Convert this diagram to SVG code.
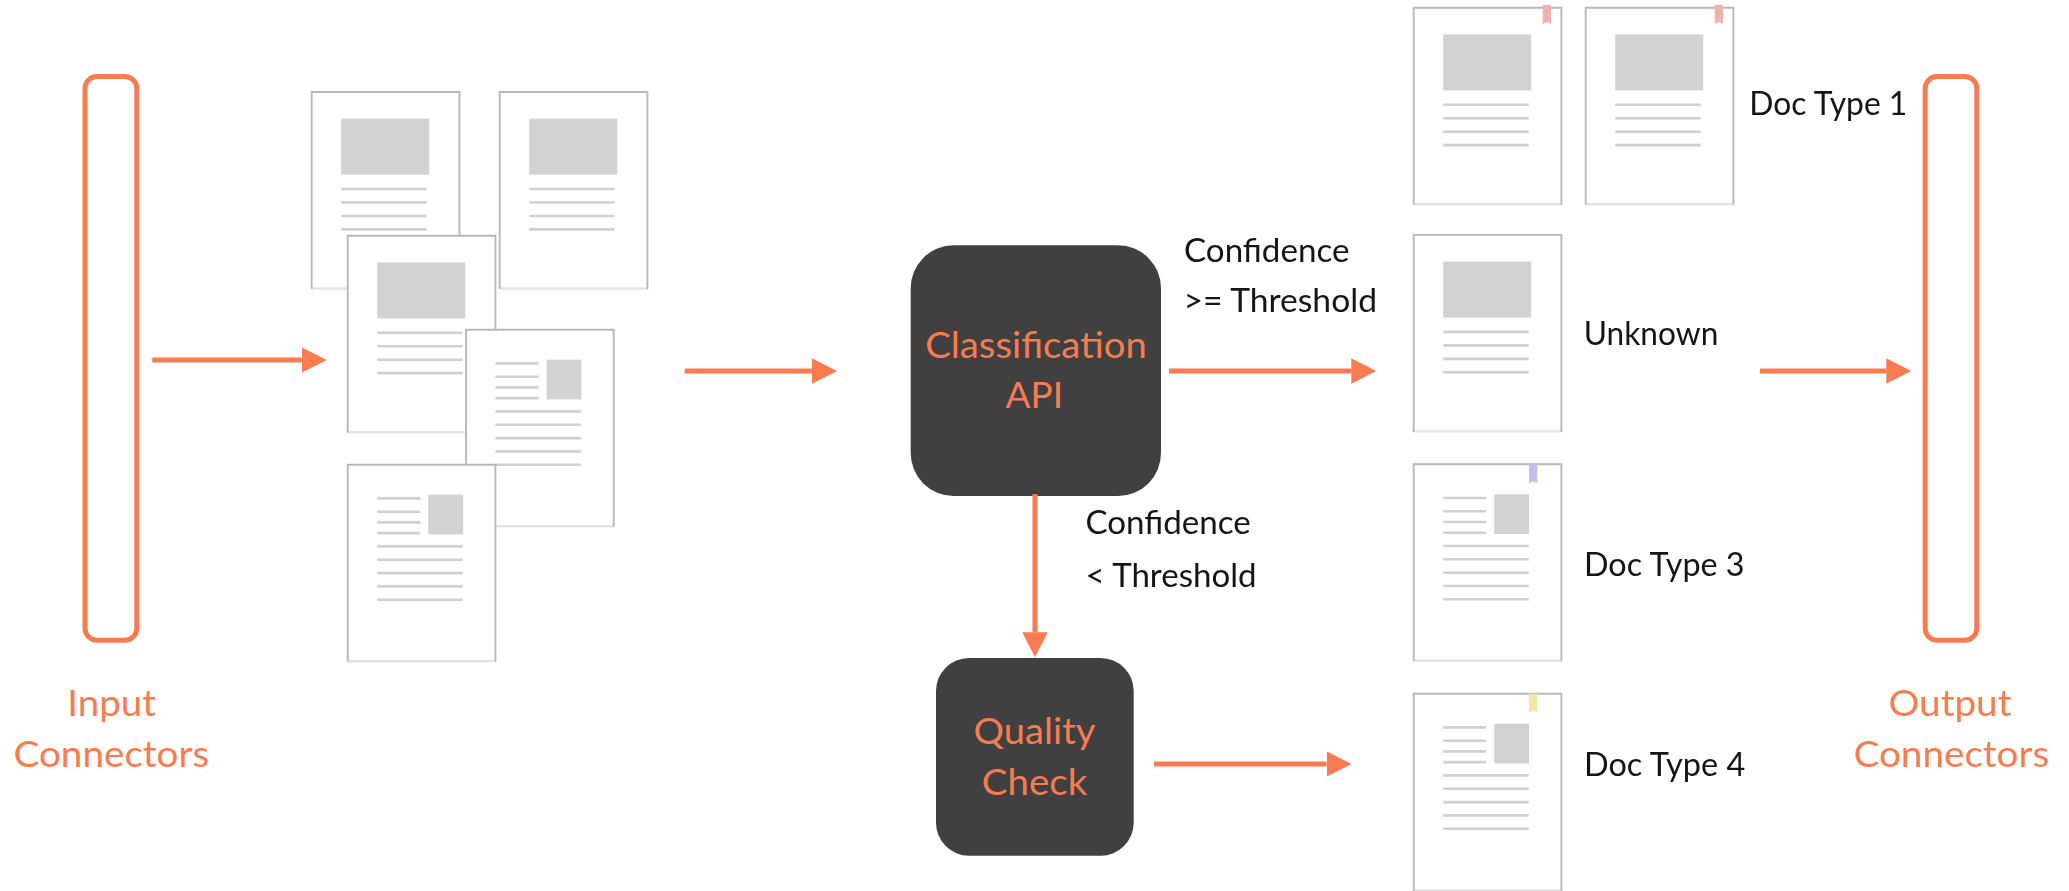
<svg xmlns="http://www.w3.org/2000/svg" xmlns:xlink="http://www.w3.org/1999/xlink" width="2069" height="891" viewBox="0 0 2069 891">
<style>
text{font-family:"Lato","Open Sans","Liberation Sans",sans-serif}
.o{fill:#f87c50;font-size:36.5px}
.k{fill:#151515;font-size:32px}
.bar{fill:#fff;stroke:#f87c50;stroke-width:5}
.box{fill:#404040}
.arr{stroke:#f87c50;stroke-width:5;fill:none;marker-end:url(#h)}
.pg{fill:#fff}
.ed{fill:none;stroke:#b8b8b8;stroke-width:1.9}
.bt{fill:none;stroke:#e4e4e4;stroke-width:2.4}
.im{fill:#d2d2d2}
.ln{stroke:#d0d0d0;stroke-width:2.6}
</style>
<defs>
<filter id="b" x="-5%" y="-5%" width="110%" height="110%"><feGaussianBlur stdDeviation="0.6"/></filter>
<marker id="h" markerUnits="userSpaceOnUse" markerWidth="26" markerHeight="26" refX="0" refY="12.7" orient="auto"><path d="M0 0L25 12.7L0 25.4Z" fill="#f87c50"/></marker>
<g id="page"><rect class="pg" width="147.7" height="196.5"/><path class="bt" d="M0 196.5H147.7"/><path class="ed" d="M0 197V0H147.7V197"/></g>
<g id="docA"><use href="#page"/><rect class="im" x="29.5" y="26.7" width="88" height="56"/><path class="ln" d="M29.5 97H115M29.5 110.5H115M29.5 124H115M29.5 137.4H115"/></g>
<g id="docB"><use href="#page"/><rect class="im" x="80.6" y="30" width="34.8" height="39.7"/><path class="ln" d="M29.5 33.7H72.5M29.5 47H72.5M29.5 57.7H72.5M29.5 68.4H72.5M29.5 81.7H115M29.5 95H115M29.5 108.4H115M29.5 121.7H115M29.5 135H115"/></g>
<path id="tag" d="M0 0H8.3V19L4.15 17L0 19Z"/>
</defs>
<rect width="2069" height="891" fill="#fff"/>
<g id="input-connectors"><rect class="bar" x="85" y="76.5" width="51.8" height="563.7" rx="12"/>
<text class="o" x="67.3" y="715.5" textLength="88.7" lengthAdjust="spacingAndGlyphs">Input</text>
<text class="o" x="13.5" y="766.5" textLength="195.7" lengthAdjust="spacingAndGlyphs">Connectors</text></g>
<g id="input-documents" filter="url(#b)">
<use href="#docA" x="311.7" y="92"/><use href="#docA" x="499.7" y="92"/><use href="#docA" x="347.7" y="235.7"/><use href="#docB" x="466" y="329.7"/><use href="#docB" x="347.7" y="464.7"/>
</g>
<g id="classification-api"><rect class="box" x="910.7" y="245.3" width="250.3" height="250.7" rx="43"/>
<text class="o" x="925.2" y="358.2" textLength="221.6" lengthAdjust="spacingAndGlyphs">Classification</text>
<text class="o" x="1005.5" y="408.2" textLength="57.5" lengthAdjust="spacingAndGlyphs">API</text></g>
<g id="quality-check"><rect class="box" x="936" y="658" width="197.7" height="197.7" rx="33"/>
<text class="o" x="973.5" y="743.8" textLength="122" lengthAdjust="spacingAndGlyphs">Quality</text>
<text class="o" x="981.8" y="794.8" textLength="105.4" lengthAdjust="spacingAndGlyphs">Check</text></g>
<g id="doc-type-1" filter="url(#b)"><use href="#docA" x="1413.7" y="7.7"/><use href="#docA" x="1585.7" y="7.7"/>
<use href="#tag" x="1542.7" y="5" fill="#f0b0b0"/><use href="#tag" x="1714.7" y="5" fill="#f0b0b0"/></g>
<g id="doc-unknown" filter="url(#b)"><use href="#docA" x="1413.7" y="234.9"/></g>
<g id="doc-type-3" filter="url(#b)"><use href="#docB" x="1413.7" y="464.3"/><use href="#tag" x="1529" y="464.3" fill="#c3bfee"/></g>
<g id="doc-type-4" filter="url(#b)"><use href="#docB" x="1413.7" y="693.7"/><use href="#tag" x="1529" y="693.7" fill="#eee9ab"/></g>
<g id="doc-labels">
<text class="k" x="1749.3" y="115.3" textLength="158" lengthAdjust="spacingAndGlyphs">Doc Type 1</text>
<text class="k" x="1583.8" y="345.3" textLength="134.5" lengthAdjust="spacingAndGlyphs">Unknown</text>
<text class="k" x="1584" y="576" textLength="160.6" lengthAdjust="spacingAndGlyphs">Doc Type 3</text>
<text class="k" x="1584" y="776" textLength="161.3" lengthAdjust="spacingAndGlyphs">Doc Type 4</text>
</g>
<g id="output-connectors"><rect class="bar" x="1925.2" y="76.5" width="51.6" height="563.7" rx="12"/>
<text class="o" x="1888.5" y="715.5" textLength="123" lengthAdjust="spacingAndGlyphs">Output</text>
<text class="o" x="1853.5" y="766.5" textLength="195.7" lengthAdjust="spacingAndGlyphs">Connectors</text></g>
<g id="connectors">
<line class="arr" x1="152.3" y1="360" x2="301.7" y2="360"/>
<line class="arr" x1="684.8" y1="371" x2="812" y2="371"/>
<line class="arr" x1="1169" y1="371" x2="1351.3" y2="371"/>
<line class="arr" x1="1760" y1="371" x2="1886.3" y2="371"/>
<line class="arr" x1="1035" y1="494" x2="1035" y2="632.3"/>
<line class="arr" x1="1154" y1="764" x2="1326.5" y2="764"/>
</g>
<g id="connector-labels">
<text class="k" x="1184" y="262" textLength="165.5" lengthAdjust="spacingAndGlyphs">Confidence</text>
<text class="k" x="1183.5" y="312" textLength="193.5" lengthAdjust="spacingAndGlyphs">&gt;= Threshold</text>
<text class="k" x="1085.4" y="534" textLength="165.4" lengthAdjust="spacingAndGlyphs">Confidence</text>
<text class="k" x="1085.5" y="587" textLength="171" lengthAdjust="spacingAndGlyphs">&lt; Threshold</text>
</g>
</svg>
